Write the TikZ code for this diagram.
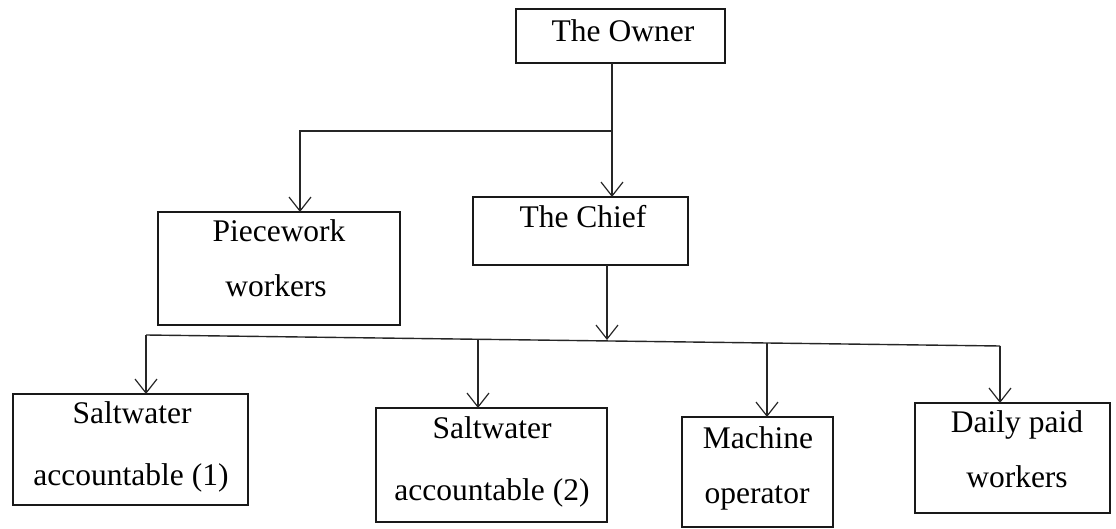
\documentclass[tikz,border=0pt]{standalone}
\usepackage{fontspec}
\setmainfont{Liberation Serif}
\usetikzlibrary{arrows.meta}
\tikzset{
  box/.style={draw=black!90, line width=1.6pt, inner sep=0pt, outer sep=0pt, fill=none},
  lbl/.style={anchor=base, inner sep=0pt, font=\fontsize{31.5}{37}\selectfont, text=black},
  link/.style={draw=black!85, line width=1.4pt},
  arr/.style={link, -{Straight Barb[length=14pt,width=22pt,line width=1.2pt]}},
  boldlbl/.style={lbl, preaction={}, text=black, draw=none}
}
\begin{document}
\begin{tikzpicture}[x=1pt,y=-1pt]
\useasboundingbox (0,0) rectangle (1116,529);
% boxes
\node[box, minimum width=209pt, minimum height=54pt] (owner) at (620.5,36) {};
\node[box, minimum width=215pt, minimum height=68pt] (chief) at (580.5,231) {};
\node[box, minimum width=242pt, minimum height=113pt] (piece) at (279,268.5) {};
\node[box, minimum width=235pt, minimum height=111pt] (sal1) at (130.5,449.5) {};
\node[box, minimum width=231pt, minimum height=114pt] (sal2) at (491.5,465) {};
\node[box, minimum width=151pt, minimum height=110pt] (mach) at (757.5,472) {};
\node[box, minimum width=195pt, minimum height=110pt] (daily) at (1012.5,458) {};
% texts
\node[lbl] (towner) at (623,42) {The Owner};
\node[lbl] (tchief) at (583,228) {The Chief};
\node[lbl] (tpiece1) at (279,242) {Piecework};
\node[lbl] (tpiece2) at (276,297) {workers};
\node[lbl] (tsal1a) at (132,423) {Saltwater};
\node[lbl] (tsal1b) at (131,485) {accountable (1)};
\node[lbl] (tsal2a) at (492,438) {Saltwater};
\node[lbl] (tsal2b) at (492,500) {accountable (2)};
\node[lbl] (tmach1) at (758,448) {Machine};
\node[lbl] (tmach2) at (757,503) {operator};
\node[lbl] (tdaily1) at (1017,432) {Daily paid};
\node[lbl] (tdaily2) at (1017,487) {workers};
% junction coordinates
\coordinate (j1) at (612,131);
\coordinate (jp) at (300,131);
\coordinate (jc) at (607,340);
\coordinate (bl) at (146,335);
\coordinate (b2) at (478,339.3);
\coordinate (b3) at (767,343);
\coordinate (br) at (1000,346);
% connectors
\draw[link] (owner.south -| j1) -- (j1);
\draw[arr] (j1) -- (chief.north -| j1);
\draw[arr] (j1) -- (jp) -- (piece.north -| jp);
\draw[arr] (chief.south -| jc) -- (jc);
\draw[link] (bl) -- (br);
\draw[arr] (bl) -- (sal1.north -| bl);
\draw[arr] (b2) -- (sal2.north -| b2);
\draw[arr] (b3) -- (mach.north -| b3);
\draw[arr] (br) -- (daily.north -| br);
\end{tikzpicture}
\end{document}
